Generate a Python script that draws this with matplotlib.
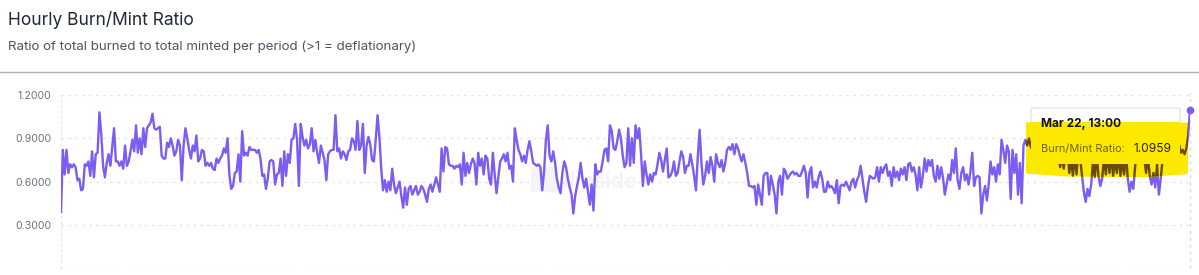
import numpy as np
import pandas as pd
import matplotlib
matplotlib.use('Agg')
import matplotlib.pyplot as plt
from matplotlib.patches import Polygon, FancyBboxPatch

plt.rcParams['font.family'] = ['Inter', 'DejaVu Sans']

W, H = 1199, 275

TITLE = 'Hourly Burn/Mint Ratio'
SUBTITLE = 'Ratio of total burned to total minted per period (>1 = deflationary)'
SERIES_NAME = 'Burn/Mint Ratio'
LAST_HOUR = '2025-03-22 13:00'

# hourly burn/mint ratio in six chunks (left to right)
ratio_p1 = [0.39, 0.82, 0.65, 0.82, 0.66, 0.72, 0.70, 0.72, 0.70, 0.61, 0.62, 0.54, 0.55, 0.72,
            0.71, 0.74, 0.64, 0.81, 0.63, 0.79, 0.80, 1.08, 0.93, 0.71, 0.63, 0.73, 0.79, 0.71,
            0.84, 0.97, 0.74, 0.74, 0.71, 0.74, 0.69, 0.85, 0.71, 0.74, 0.81, 0.89, 0.81, 0.99,
            0.80, 0.90, 0.79, 0.97, 0.84, 0.97, 0.99, 1.01, 1.07, 0.97, 0.96, 0.97, 0.98, 0.78,
            0.76, 0.76, 0.87, 0.84, 0.90, 0.85, 0.78, 0.81, 0.89, 0.85, 0.61, 0.85, 0.97, 0.90,
            0.82, 0.76, 0.85, 0.81, 0.92, 0.74, 0.76, 0.82, 0.81, 0.71, 0.73, 0.71, 0.73, 0.69,
            0.68, 0.76, 0.73, 0.76, 0.78, 0.83, 0.80, 0.90, 0.65, 0.55, 0.57, 0.66, 0.67, 0.79,
            0.60]
ratio_p2 = [0.95, 0.78, 0.80, 0.78, 0.84, 0.82, 0.82, 0.82, 0.80, 0.82, 0.76, 0.64, 0.65, 0.55,
            0.62, 0.74, 0.75, 0.74, 0.58, 0.65, 0.66, 0.76, 0.57, 0.81, 0.64, 0.79, 0.73, 0.89,
            0.90, 1.00, 0.89, 0.57, 1.00, 0.91, 0.85, 0.89, 0.83, 0.86, 0.97, 0.81, 0.89, 0.80,
            0.73, 0.85, 0.80, 0.75, 0.61, 0.79, 0.81, 0.82, 0.82, 1.06, 0.81, 0.83, 0.76, 0.81,
            0.79, 0.75, 0.81, 0.82, 0.90, 0.88, 0.82, 1.02, 0.82, 0.85, 1.00, 0.66, 0.85, 0.91,
            0.86, 0.75, 0.74, 0.89, 1.06, 0.91, 0.69, 0.54, 0.61, 0.53, 0.60, 0.54, 0.69, 0.58,
            0.52, 0.56, 0.60, 0.50, 0.42, 0.56, 0.44, 0.55, 0.57, 0.51, 0.54, 0.57, 0.51, 0.53,
            0.57, 0.55, 0.51, 0.46, 0.55, 0.58, 0.53]
ratio_p3 = [0.58, 0.63, 0.58, 0.53, 0.83, 0.67, 0.84, 0.83, 0.72, 0.71, 0.71, 0.69, 0.71, 0.70,
            0.72, 0.58, 0.80, 0.64, 0.73, 0.66, 0.72, 0.76, 0.73, 0.58, 0.80, 0.71, 0.76, 0.65,
            0.78, 0.76, 0.62, 0.58, 0.80, 0.65, 0.52, 0.63, 0.74, 0.76, 0.79, 0.74, 0.80, 0.69,
            0.71, 0.60, 0.97, 0.89, 0.82, 0.79, 0.74, 0.78, 0.73, 0.82, 0.88, 0.81, 0.73, 0.72,
            0.71, 0.72, 0.70, 0.54, 0.67, 0.89, 0.99, 0.78, 0.74, 0.81, 0.73, 0.62, 0.56, 0.52,
            0.66, 0.74, 0.70, 0.62, 0.56, 0.51, 0.38, 0.50, 0.57, 0.63, 0.73, 0.62, 0.56, 0.62,
            0.53, 0.44, 0.58, 0.40, 0.72, 0.65, 0.67, 0.67, 0.74, 0.82, 0.83, 0.74, 0.99, 0.95,
            0.83, 0.82, 0.88, 0.96, 0.90, 0.78, 0.70, 0.73, 0.97]
ratio_p4 = [0.71, 0.90, 0.73, 0.99, 0.90, 0.97, 0.79, 0.57, 0.74, 0.65, 0.58, 0.65, 0.60, 0.66,
            0.65, 0.72, 0.80, 0.75, 0.67, 0.75, 0.83, 0.63, 0.64, 0.67, 0.74, 0.64, 0.66, 0.74,
            0.81, 0.77, 0.66, 0.71, 0.71, 0.79, 0.72, 0.64, 0.54, 0.77, 0.96, 0.73, 0.58, 0.64,
            0.74, 0.66, 0.77, 0.71, 0.60, 0.79, 0.73, 0.70, 0.75, 0.67, 0.73, 0.82, 0.84, 0.82,
            0.86, 0.79, 0.86, 0.83, 0.78, 0.74, 0.79, 0.73, 0.66, 0.57, 0.57, 0.56, 0.57, 0.44,
            0.58, 0.51, 0.44, 0.64, 0.66, 0.66, 0.51, 0.64, 0.58, 0.51, 0.38, 0.60, 0.64, 0.51,
            0.69, 0.67, 0.62, 0.64, 0.66, 0.67, 0.65, 0.66, 0.64, 0.64, 0.67, 0.71, 0.66, 0.49,
            0.66]
ratio_p5 = [0.70, 0.56, 0.60, 0.56, 0.63, 0.67, 0.62, 0.53, 0.53, 0.60, 0.56, 0.57, 0.55, 0.52,
            0.61, 0.45, 0.57, 0.58, 0.57, 0.60, 0.57, 0.54, 0.60, 0.62, 0.56, 0.61, 0.64, 0.71,
            0.62, 0.53, 0.46, 0.57, 0.64, 0.63, 0.62, 0.63, 0.70, 0.60, 0.70, 0.66, 0.70, 0.72,
            0.64, 0.67, 0.57, 0.70, 0.63, 0.67, 0.61, 0.69, 0.65, 0.70, 0.61, 0.72, 0.73, 0.67,
            0.70, 0.65, 0.54, 0.70, 0.56, 0.64, 0.76, 0.67, 0.75, 0.71, 0.75, 0.64, 0.60, 0.71,
            0.62, 0.70, 0.63, 0.51, 0.58, 0.65, 0.61, 0.75, 0.66, 0.83, 0.61, 0.55, 0.66, 0.70,
            0.61, 0.65, 0.58, 0.67, 0.80, 0.57, 0.63, 0.64, 0.63, 0.38, 0.51, 0.57, 0.47, 0.58,
            0.74, 0.65, 0.70, 0.60, 0.72, 0.65, 0.89, 0.82, 0.73]
ratio_p6 = [0.85, 0.81, 0.48, 0.82, 0.66, 0.79, 0.51, 0.73, 0.45, 0.85, 0.89, 0.85, 0.90, 0.84,
            0.82, 0.78, 0.85, 0.80, 0.88, 0.79, 0.83, 0.86, 0.78, 0.84, 0.80, 0.87, 0.81, 0.76,
            0.82, 0.70, 0.78, 0.69, 0.80, 0.85, 0.66, 0.76, 0.64, 0.78, 0.65, 0.82, 0.76, 0.64,
            0.53, 0.46, 0.55, 0.50, 0.58, 0.74, 0.63, 0.78, 0.64, 0.57, 0.62, 0.77, 0.65, 0.80,
            0.66, 0.78, 0.64, 0.76, 0.66, 0.79, 0.64, 0.75, 0.65, 0.80, 0.62, 0.53, 0.60, 0.55,
            0.70, 0.82, 0.86, 0.79, 0.84, 0.76, 0.66, 0.78, 0.64, 0.58, 0.66, 0.56, 0.72, 0.51,
            0.62, 0.75, 0.85, 0.80, 0.88, 0.83, 0.90, 0.84, 0.87, 0.82, 0.86, 0.80, 0.82, 0.79,
            0.83, 0.92, 1.0959]

y_ticks = [0.0, 0.3, 0.6, 0.9, 1.2]

ratio = np.array(ratio_p1 + ratio_p2 + ratio_p3 + ratio_p4 + ratio_p5 + ratio_p6)
hours = pd.date_range(end=LAST_HOUR, periods=len(ratio), freq='h')

LINE = '#7c5cf2'
GRID = '#e3e6ea'


def fig_xy(x, y):
    # pixel position measured from the top-left corner -> figure fraction
    return x / W, 1 - y / H


fig = plt.figure(figsize=(W / 100, H / 100), dpi=100)
fig.patch.set_facecolor('white')

fig.text(*fig_xy(8, 20), TITLE, fontsize=12.5, color='#1f2937', va='center')
fig.text(*fig_xy(8, 47), SUBTITLE, fontsize=9.6, color='#4b5563', va='center')
fig.add_artist(plt.Line2D([0, 1], [1 - 71.5 / H] * 2, color='#a8b3bf', lw=1.0,
                          transform=fig.transFigure))

left, right = 61 / W, 1190 / W
bottom, top = 1 - 268.3 / H, 1 - 95 / H
ax = fig.add_axes([left, bottom, right - left, top - bottom])

ax.plot(hours, ratio, color=LINE, lw=1.7, zorder=3, solid_joinstyle='round')
ax.plot(hours[-1:], ratio[-1:], 'o', color=LINE, ms=4.5, zorder=8, clip_on=False)

ax.set_xlim(hours[0], hours[-1])
ax.set_ylim(0, 1.2)
ax.set_yticks(y_ticks)
ax.set_yticklabels(['' if t == 0 else '{:.4f}'.format(t) for t in y_ticks])
ax.tick_params(axis='y', length=0, pad=7, labelsize=7.6, labelcolor='#6b7280')
ax.tick_params(axis='x', length=0, labelbottom=False)
ax.grid(axis='y', color=GRID, lw=1.0, linestyle=(0, (2, 3)))
ax.set_axisbelow(True)
for side in ['top', 'right', 'bottom']:
    ax.spines[side].set_visible(False)
ax.spines['left'].set_color(GRID)
ax.spines['left'].set_linestyle((0, (2, 3)))
ax.axvline(hours[-1], color='#d5d9de', lw=1.0, linestyle=(0, (2, 3)), zorder=2,
           ymax=1.01, clip_on=False)

# faint watermark
ax.add_patch(plt.Rectangle(fig_xy(531, 192), 26 / W, 25 / H, transform=fig.transFigure,
                           facecolor='#f3f4f6', edgecolor='none', zorder=1))
ax.text(*fig_xy(562, 181), 'flipside', transform=fig.transFigure, fontsize=15,
        color='#f3f4f6', ha='left', va='center', fontweight='bold', zorder=1)

# tooltip box
box_x0, box_y0 = fig_xy(1031, 108)
box_x1, box_y1 = fig_xy(1180, 164)
box = FancyBboxPatch((box_x0, box_y1), box_x1 - box_x0, box_y0 - box_y1,
                     boxstyle='round,pad=0,rounding_size=0.004', transform=fig.transFigure,
                     facecolor='white', edgecolor='#e1e4e8', lw=1.0, zorder=5, clip_on=False)
ax.add_patch(box)

# yellow highlighter stroke over the tooltip
hl_pts = [fig_xy(*p) for p in [(1026, 122), (1066, 126), (1105, 127), (1140, 126),
                                (1166, 123), (1188, 122.5), (1188, 174), (1150, 177),
                                (1105, 177), (1066, 176.5), (1026, 173.5)]]
hl = Polygon(hl_pts, closed=True, transform=fig.transFigure, facecolor='#fde800',
             edgecolor='none', zorder=6, clip_on=False)
ax.add_patch(hl)
dark, = ax.plot(hours, ratio, color='#6a4a05', lw=1.7, zorder=7)
dark.set_clip_path(hl)
# the box area under the highlighter stays plain yellow
cover_x0, cover_y0 = fig_xy(1031, 122)
cover_x1, cover_y1 = fig_xy(1180, 164)
ax.add_patch(plt.Rectangle((cover_x0, cover_y1), cover_x1 - cover_x0, cover_y0 - cover_y1,
                           transform=fig.transFigure, facecolor='#fde800', edgecolor='none',
                           zorder=7.5, clip_on=False))

ax.text(*fig_xy(1041, 124), hours[-1].strftime('%b %d, %H:%M'), transform=fig.transFigure,
        fontsize=8.6, fontweight='bold', color='#111111', va='center', zorder=9)
ax.text(*fig_xy(1041, 149), SERIES_NAME + ':', transform=fig.transFigure,
        fontsize=7.9, color='#6b6300', va='center', zorder=9)
ax.text(*fig_xy(1171, 149), '{:.4f}'.format(ratio[-1]), transform=fig.transFigure,
        fontsize=8.6, color='#2a2600', va='center', ha='right', zorder=9)

fig.savefig('out.png', dpi=100)
